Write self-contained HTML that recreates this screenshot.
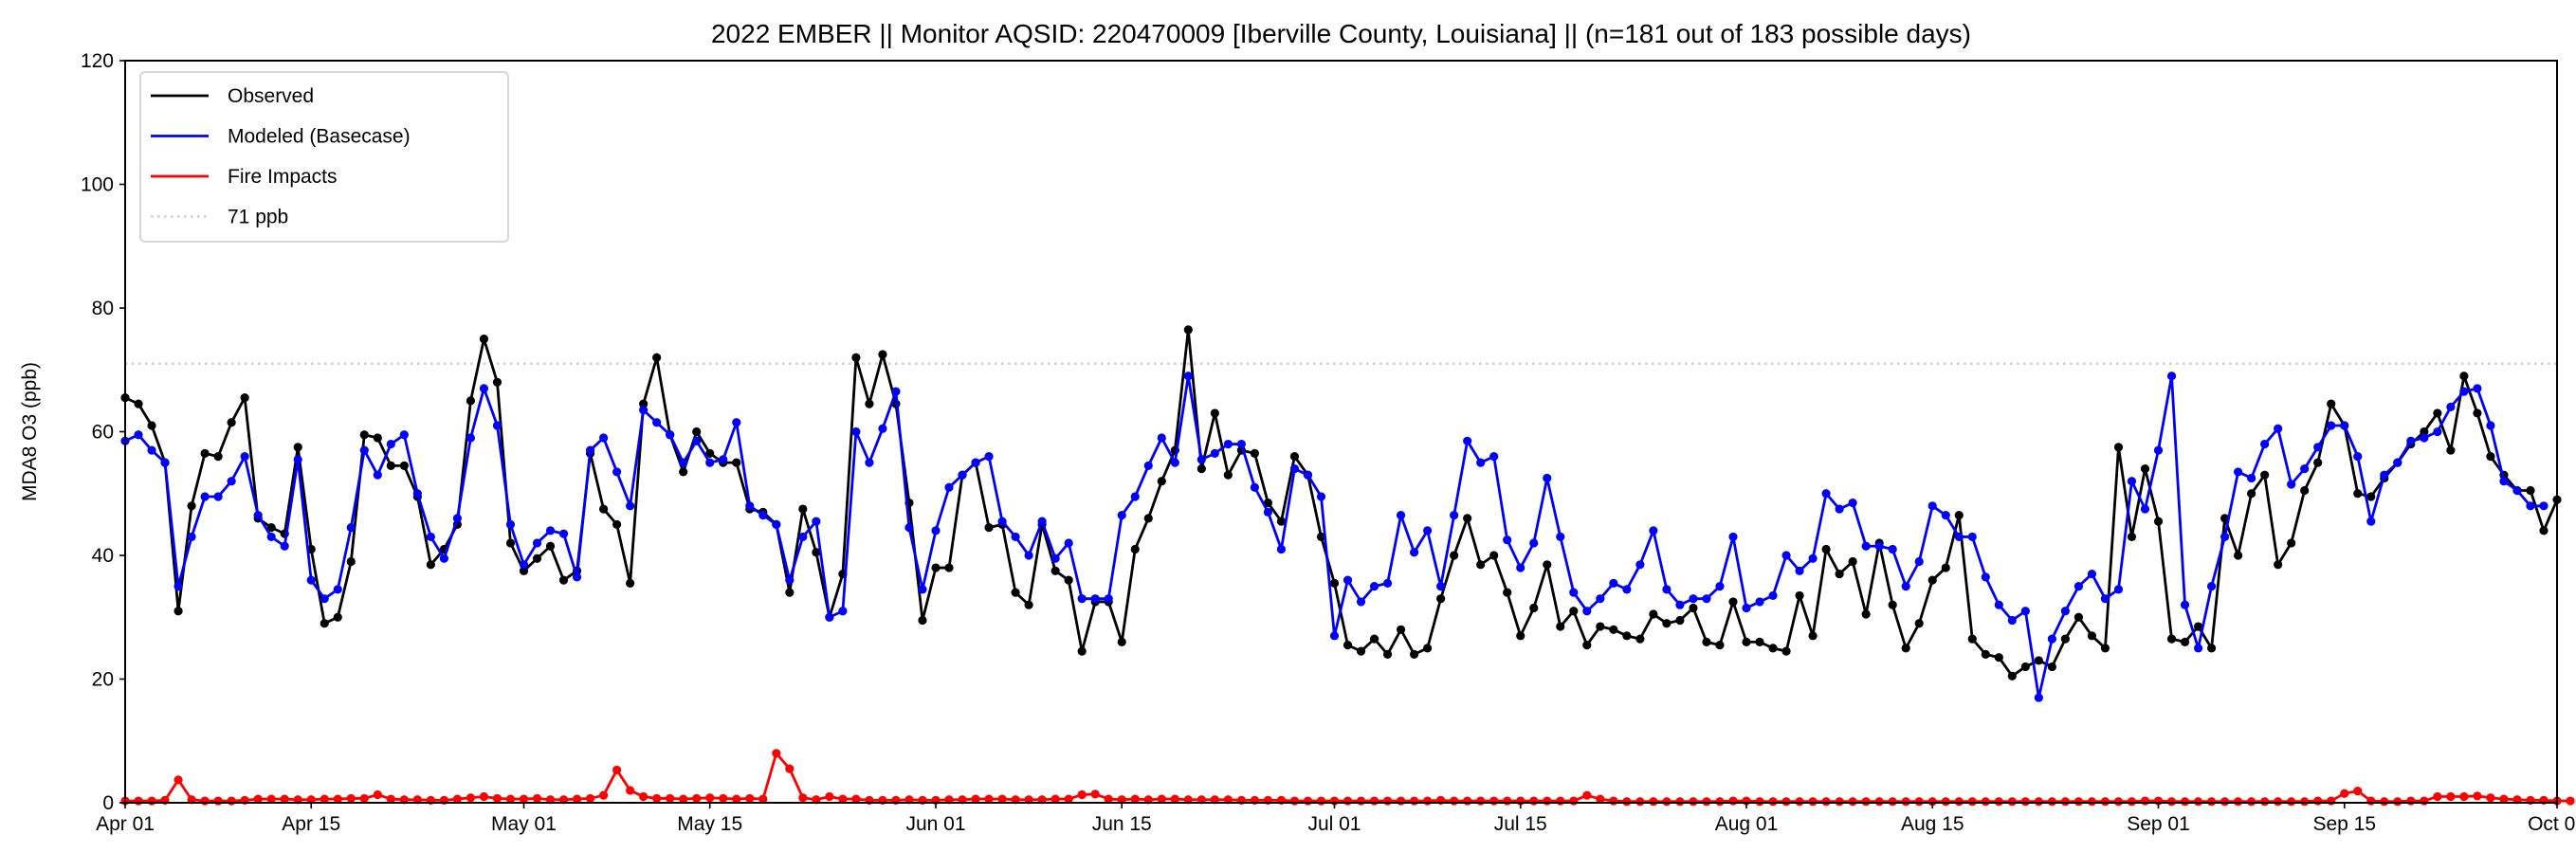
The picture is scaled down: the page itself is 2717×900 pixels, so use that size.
<!DOCTYPE html>
<html><head><meta charset="utf-8"><style>
html,body{margin:0;padding:0;background:#fff;}
svg{display:block;font-family:"Liberation Sans","DejaVu Sans",sans-serif;}
</style></head><body>
<svg id="chart" width="2717" height="900" xmlns="http://www.w3.org/2000/svg"></svg>
<script>
const observed=[65.5,64.5,61,55,31,48,56.5,56,61.5,65.5,46,44.5,43.5,57.5,41,29,30,39,59.5,59,54.5,54.5,49.5,38.5,41,45,65,75,68,42,37.5,39.5,41.5,36,37.5,56.5,47.5,45,35.5,64.5,72,59.5,53.5,60,56.5,55,55,47.5,47,45,34,47.5,40.5,30,37,72,64.5,72.5,64.5,48.5,29.5,38,38,53,55,44.5,45,34,32,45,37.5,36,24.5,32.5,32.5,26,41,46,52,57,76.5,54,63,53,57,56.5,48.5,45.5,56,53,43,35.5,25.5,24.5,26.5,24,28,24,25,33,40,46,38.5,40,34,27,31.5,38.5,28.5,31,25.5,28.5,28,27,26.5,30.5,29,29.5,31.5,26,25.5,32.5,26,26,25,24.5,33.5,27,41,37,39,30.5,42,32,25,29,36,38,46.5,26.5,24,23.5,20.5,22,23,22,26.5,30,27,25,57.5,43,54,45.5,26.5,26,28.5,25,46,40,50,53,38.5,42,50.5,55,64.5,61,50,49.5,52.5,55,58,60,63,57,69,63,56,53,50.5,50.5,44,49];
const modeled=[58.5,59.5,57,55,35,43,49.5,49.5,52,56,46.5,43,41.5,55.5,36,33,34.5,44.5,57,53,58,59.5,50,43,39.5,46,59,67,61,45,38.5,42,44,43.5,36.5,57,59,53.5,48,63.5,61.5,59.5,55,58.5,55,55.5,61.5,48,46.5,45,36,43,45.5,30,31,60,55,60.5,66.5,44.5,34.5,44,51,53,55,56,45.5,43,40,45.5,39.5,42,33,33,33,46.5,49.5,54.5,59,55,69,55.5,56.5,58,58,51,47,41,54,53,49.5,27,36,32.5,35,35.5,46.5,40.5,44,35,46.5,58.5,55,56,42.5,38,42,52.5,43,34,31,33,35.5,34.5,38.5,44,34.5,32,33,33,35,43,31.5,32.5,33.5,40,37.5,39.5,50,47.5,48.5,41.5,41.5,41,35,39,48,46.5,43,43,36.5,32,29.5,31,17,26.5,31,35,37,33,34.5,52,47.5,57,69,32,25,35,43,53.5,52.5,58,60.5,51.5,54,57.5,61,61,56,45.5,53,55,58.5,59,60,64,66.5,67,61,52,50.5,48,48];
const fire=[0.3,0.3,0.3,0.4,3.7,0.5,0.3,0.3,0.3,0.4,0.6,0.6,0.6,0.5,0.5,0.6,0.6,0.7,0.7,1.3,0.6,0.5,0.5,0.4,0.4,0.6,0.8,1.0,0.7,0.6,0.6,0.7,0.5,0.5,0.6,0.7,1.2,5.3,2.0,1.0,0.7,0.7,0.6,0.7,0.8,0.7,0.6,0.7,0.6,8.0,5.5,0.8,0.5,1.0,0.6,0.6,0.4,0.4,0.4,0.5,0.4,0.4,0.5,0.5,0.6,0.6,0.6,0.5,0.5,0.5,0.6,0.6,1.3,1.4,0.6,0.5,0.6,0.5,0.6,0.6,0.5,0.5,0.5,0.5,0.4,0.4,0.4,0.4,0.3,0.3,0.3,0.3,0.3,0.3,0.3,0.3,0.3,0.3,0.3,0.4,0.3,0.3,0.3,0.3,0.3,0.3,0.3,0.3,0.3,0.3,1.2,0.6,0.3,0.2,0.2,0.2,0.2,0.2,0.2,0.2,0.2,0.3,0.3,0.2,0.2,0.2,0.2,0.2,0.2,0.2,0.2,0.2,0.2,0.2,0.2,0.2,0.2,0.2,0.2,0.2,0.2,0.2,0.2,0.2,0.2,0.2,0.2,0.2,0.2,0.2,0.2,0.2,0.3,0.3,0.2,0.2,0.2,0.2,0.2,0.2,0.2,0.2,0.2,0.2,0.2,0.3,0.3,1.5,1.9,0.3,0.2,0.2,0.3,0.3,1.0,1.0,1.0,1.1,0.8,0.6,0.5,0.4,0.4,0.3,0.3];
const xTickLabels=["Apr 01","Apr 15","May 01","May 15","Jun 01","Jun 15","Jul 01","Jul 15","Aug 01","Aug 15","Sep 01","Sep 15","Oct 01"];
const xTickDays=[0,14,30,44,61,75,91,105,122,136,153,167,183];
const yTicks=[0,20,40,60,80,100,120];
const threshold=[71];

const svg=document.getElementById('chart');
const NS='http://www.w3.org/2000/svg';
const L=132,R=2697,T=64,B=847,DAYS=183,YMAX=120;
function xs(d){return L+(R-L)*d/DAYS;}
function ys(v){return B-(B-T)*v/YMAX;}
function mk(tag,attrs,parent){const e=document.createElementNS(NS,tag);for(const k in attrs)e.setAttribute(k,attrs[k]);(parent||svg).appendChild(e);return e;}

// title
const title=mk('text',{x:(L+R)/2,y:45,'text-anchor':'middle','font-size':28,fill:'#000'});
title.textContent='2022 EMBER || Monitor AQSID: 220470009 [Iberville County, Louisiana] || (n=181 out of 183 possible days)';



// threshold line
const th=mk('line',{x1:L,x2:R,y1:ys(threshold[0]),y2:ys(threshold[0]),stroke:'#d3d3d3','stroke-width':2.6,'stroke-dasharray':'2.6 4.4'});



function series(vals,color,name){
  const g=mk('g',{});
  
  
  const pts=vals.map((v,i)=>xs(i)+','+ys(v)).join(' ');
  mk('polyline',{points:pts,fill:'none',stroke:color,'stroke-width':2.8,'stroke-linejoin':'round'},g);
  vals.forEach((v,i)=>{
    const c=mk('circle',{cx:xs(i),cy:ys(v),r:4.6,fill:color},g);
    
    
  });
}
series(observed,'#000000','observed-series');
series(modeled,'#0000ff','modeled-series');
series(fire,'#ff0000','fire-impacts-series');

// axes frame
const frame=mk('rect',{x:L,y:T,width:R-L,height:B-T,fill:'none',stroke:'#000','stroke-width':2});



yTicks.forEach(v=>{
  mk('line',{x1:L-6,x2:L,y1:ys(v),y2:ys(v),stroke:'#000','stroke-width':1.6});
  const t=mk('text',{x:L-12,y:ys(v)+7,'text-anchor':'end','font-size':21});
  t.textContent=v;
  
  
});
xTickDays.forEach((d,i)=>{
  mk('line',{x1:xs(d),x2:xs(d),y1:B,y2:B+6,stroke:'#000','stroke-width':1.6});
  const t=mk('text',{x:xs(d),y:B+29,'text-anchor':'middle','font-size':21});
  t.textContent=xTickLabels[i];
  
  
});
const yl=mk('text',{x:0,y:0,'text-anchor':'middle','font-size':21,transform:'translate(38,'+((T+B)/2)+') rotate(-90)'});
yl.textContent='MDA8 O3 (ppb)';



// legend
const lg=mk('g',{});


mk('rect',{x:148,y:76,width:388,height:179,rx:5,fill:'#fff','fill-opacity':0.8,stroke:'#d6d6d6','stroke-width':2},lg);
const entries=[['Observed','#000',''],['Modeled (Basecase)','#0000ff',''],['Fire Impacts','#ff0000',''],['71 ppb','#d3d3d3','2.6 4.4']];
entries.forEach((e,i)=>{
  const y=101+i*42.5;
  const eg=mk('g',{},lg);
  
  
  const a={x1:159,x2:220,y1:y,y2:y,stroke:e[1],'stroke-width':2.8};
  if(e[2])a['stroke-dasharray']=e[2];
  mk('line',a,eg);
  const t=mk('text',{x:240,y:y+7,'font-size':21},eg);
  t.textContent=e[0];
});
</script>
</body></html>
